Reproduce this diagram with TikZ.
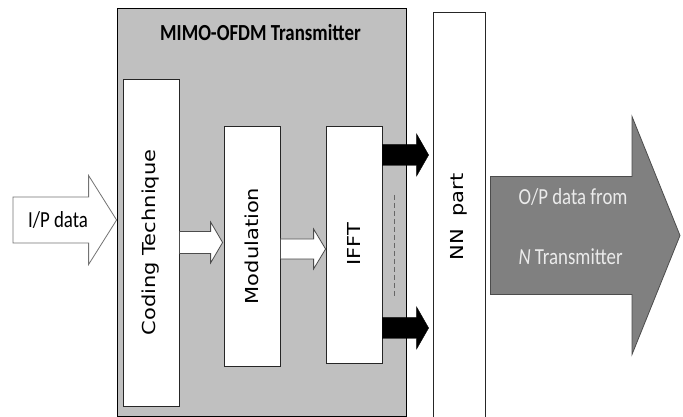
\documentclass[tikz,border=0pt]{standalone}
\usepackage{fontspec}
\setmainfont{Carlito}
\newfontfamily\vfont{DejaVu Sans}
\usetikzlibrary{calc}
\definecolor{panel}{RGB}{192,192,192}
\definecolor{outfill}{RGB}{128,128,128}
\definecolor{outtext}{RGB}{235,235,235}
\tikzset{
  box/.style={draw=black!85, fill=white, line width=0.8pt, minimum width=56pt, inner sep=0pt},
  barrow/.style n args={3}{to path={let \p1=(\tikztostart), \p2=(\tikztotarget) in
    (\x1,\y1-#1) -- (\x2-#3,\y1-#1) -- (\x2-#3,\y1-#2) -- (\x2,\y1)
    -- (\x2-#3,\y1+#2) -- (\x2-#3,\y1+#1) -- (\x1,\y1+#1) -- cycle}},
  hollow/.style={draw=black!70, fill=white, line width=0.8pt},
  blackarr/.style={draw=black, fill=black},
  bigarr/.style={draw=black!70, fill=outfill, line width=0.8pt}
}
\newcommand{\htext}[1]{\scalebox{0.82}[1]{#1}}
\newcommand{\vtext}[1]{\scalebox{1}[0.85]{\vfont\fontsize{21}{25}\selectfont #1}}
\begin{document}
\begin{tikzpicture}[x=1pt,y=1pt]
\useasboundingbox (0,0) rectangle (683,417);
% transmitter panel
\node[draw=black, line width=0.8pt, fill=panel, minimum width=289pt, minimum height=408pt, inner sep=0pt] (tx) at (261.5,205) {};
\node (title) at (260.5,384) {\htext{\fontsize{23}{27}\selectfont\bfseries MIMO-OFDM Transmitter}};
% blocks
\node[box, minimum height=327pt] (code) at (151,174.5) {};
\node[rotate=90] (codetxt) at (code) {\vtext{Coding Technique}};
\node[box, minimum height=240pt] (mod) at (252,171) {};
\node[rotate=90] (modtxt) at (mod) {\vtext{Modulation}};
\node[box, minimum height=237pt] (ifft) at (354,172.5) {};
\node[rotate=90] (iffttxt) at (ifft) {\vtext{IFFT}};
\node[box, minimum width=52pt, minimum height=410pt] (nn) at (459,200) {};
\node[rotate=90] (nntxt) at (nn) {\vtext{NN\hspace{12pt}part}};
% input
\coordinate (ipin) at (13,197);
\draw[hollow, draw=black!55, barrow={23pt}{44.5pt}{28pt}] (ipin) to (ipin -| tx.west);
\node (iptxt) at (58,197) {\htext{\fontsize{23}{27}\selectfont I/P data}};
% inner arrows
\draw[hollow, barrow={11pt}{20.5pt}{12pt}] (code.east) to ([xshift=-1pt]mod.west);
\draw[hollow, barrow={10pt}{20pt}{12pt}] ([yshift=-3pt]mod.east) to (ifft.west);
\draw[blackarr, barrow={10.5pt}{21pt}{12pt}] ([yshift=89.5pt]ifft.east) to ([xshift=-4pt]nn.west);
\draw[blackarr, barrow={10.5pt}{21pt}{12pt}] ([yshift=-83.5pt]ifft.east) to ([xshift=-4pt]nn.west);
\draw[black!60, line width=1pt, dash pattern=on 5pt off 3pt] (394,222) -- (394,120);
% output
\coordinate (outtip) at (680,181.5);
\draw[bigarr, barrow={59pt}{119pt}{48pt}] ([xshift=5pt,yshift=-18.5pt]nn.east) to (outtip);
\node[anchor=west, text=outtext] (optxt) at (515,220) {\htext{\fontsize{23}{27}\selectfont O/P data from}};
\node[anchor=west, text=outtext] (ntxt) at (515,160) {\htext{\fontsize{23}{27}\selectfont\textit{N} Transmitter}};
\end{tikzpicture}
\end{document}
